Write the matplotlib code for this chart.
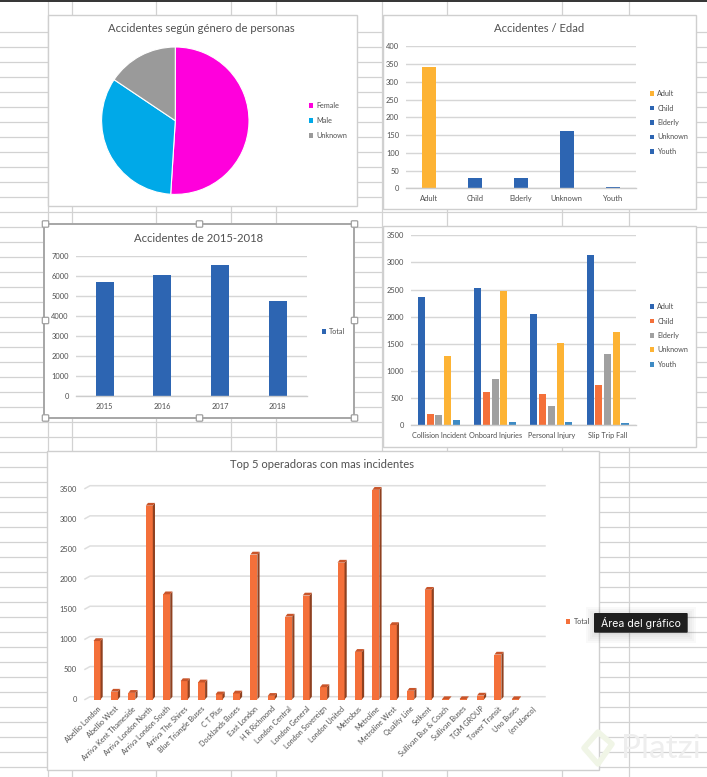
import matplotlib
matplotlib.use("Agg")
import matplotlib.pyplot as plt
from matplotlib.patches import Rectangle, Polygon, FancyBboxPatch, Patch

plt.rcParams['font.family'] = ['Lato', 'DejaVu Sans']

W, H = 707, 777
TXT = '#4f4f4f'
GRID = '#d6d6d6'
SHEET = '#d2d2d2'
BLUE = '#2d65b2'
ORANGE = '#f4703a'
ORANGE_TOP = '#c9552a'
ORANGE_SIDE = '#8f4120'
GRAY = '#a0a0a0'
YELLOW = '#fdb334'
LBLUE = '#3f8bc4'

# --- data ---
gender_labels = ['Female', 'Male', 'Unknown']
gender_values = [51.0, 33.4, 15.6]
gender_colors = ['#ff00dc', '#00a9e8', '#9a9a9a']

age_labels = ['Adult', 'Child', 'Elderly', 'Unknown', 'Youth']
age_values = [342, 30, 28, 162, 3]
age_colors = [YELLOW, BLUE, BLUE, BLUE, BLUE]

years = ['2015', '2016', '2017', '2018']
year_values = [5700, 6050, 6560, 4750]

incident_types = ['Collision Incident', 'Onboard Injuries', 'Personal Injury', 'Slip Trip Fall']
adult = [2370, 2535, 2055, 3140]
child = [205, 615, 580, 745]
elderly = [190, 855, 355, 1320]
unknown = [1285, 2480, 1520, 1710]
youth = [95, 60, 60, 40]

operators = ['Abellio London', 'Abellio West', 'Arriva Kent Thameside', 'Arriva London North',
             'Arriva London South', 'Arriva The Shires', 'Blue Triangle Buses', 'C T Plus',
             'Docklands Buses', 'East London', 'H R Richmond', 'London Central', 'London General',
             'London Sovereign', 'London United', 'Metrobus', 'Metroline', 'Metroline West',
             'Quality Line', 'Selkent', 'Sullivan Bus & Coach', 'Sullivan Buses', 'TGM GROUP',
             'Tower Transit', 'Uno Buses', '(en blanco)']
operator_values = [970, 130, 110, 3215, 1745, 305, 283, 85, 100, 2405, 60, 1375, 1725, 205,
                   2270, 790, 3478, 1235, 145, 1820, 6, 6, 65, 745, 6, 0]

fig = plt.figure(figsize=(W / 100, H / 100), dpi=100, facecolor='white')


def ax_px(l, t, r, b, **kw):
    return fig.add_axes([l / W, 1 - b / H, (r - l) / W, (b - t) / H], **kw)


# sheet background / frames in pixel coordinates
bg = ax_px(0, 0, W, H, zorder=0)
bg.set_xlim(0, W)
bg.set_ylim(H, 0)
bg.axis('off')
for k in range(0, 52):
    y = 1.5 + 15 * k
    if y > 20:
        bg.plot([0, W], [y, y], color=SHEET, lw=0.9, zorder=1)
for x in [48, 72, 156, 231, 276, 382, 447, 562, 629]:
    bg.plot([x, x], [0, H], color=SHEET, lw=0.9, zorder=1)
bg.plot([0, W], [0.5, 0.5], color='#333333', lw=1.4, zorder=1)

boxes = [(47.5, 14.5, 356.5, 205.5), (382.5, 14.5, 696, 208.5),
         (382.5, 226, 696, 446.5), (47, 450.5, 598.5, 770)]
for l, t, r, b in boxes:
    bg.add_patch(Rectangle((l, t), r - l, b - t, fc='white', ec='#cfcfcf', lw=1.0, zorder=3))
bg.add_patch(Rectangle((44, 223.5), 310, 194.5, fc='white', ec='#a6a6a6', lw=1.4, zorder=3))


def title(text, x, y):
    bg.text(x, y, text, ha='center', va='center', fontsize=8.1, color='#505050', zorder=4)


title('Accidentes según género de personas', 201, 29)
title('Accidentes / Edad', 539, 28)
title('Accidentes de 2015-2018', 199, 239)
title('Top 5 operadoras con mas incidentes', 322, 465)


def legend(ax, labels, colors, x, y, gap=15):
    handles = [Patch(fc=c, ec='none', label=t) for t, c in zip(labels, colors)]
    fs = 5.2
    ax.legend(handles=handles, loc='center left', bbox_to_anchor=(x / W, 1 - y / H),
              bbox_transform=fig.transFigure, frameon=False, fontsize=fs, labelcolor=TXT,
              borderpad=0, borderaxespad=0, handlelength=0.62, handleheight=0.62,
              handletextpad=0.45, labelspacing=(gap - fs * 1.39) / (fs * 1.39))


def style(ax, ymax, step):
    ax.patch.set_alpha(0)
    for s in ['top', 'left', 'right']:
        ax.spines[s].set_visible(False)
    ax.spines['bottom'].set_color('#cccccc')
    ax.spines['bottom'].set_linewidth(1.0)
    ax.set_ylim(0, ymax)
    ax.set_yticks(range(0, ymax + 1, step))
    ax.yaxis.grid(True, color=GRID, lw=1.0)
    ax.set_axisbelow(True)
    ax.tick_params(length=0, labelsize=5.4, labelcolor=TXT, pad=5)


# pie
R, cx, cy = 73.7, 175.3, 120.7
a1 = ax_px(cx - R, cy - R, cx + R, cy + R, zorder=1)
a1.pie(gender_values, colors=gender_colors, startangle=90, counterclock=False, radius=1,
       wedgeprops=dict(edgecolor='white', linewidth=0.8))
a1.set_xlim(-1, 1)
a1.set_ylim(-1, 1)
legend(a1, gender_labels, gender_colors, 309, 120.5)

# age
a2 = ax_px(406, 46.3, 635.7, 188.3, zorder=1)
a2.bar(range(5), age_values, width=0.31, color=age_colors)
a2.set_xlim(-0.5, 4.5)
a2.set_xticks(range(5), age_labels)
style(a2, 400, 50)
legend(a2, age_labels, age_colors, 649.5, 122.5, gap=14.7)

# year
a3 = ax_px(75.7, 256.3, 306.7, 396.3, zorder=1)
a3.bar(range(4), year_values, width=0.31, color=BLUE)
a3.set_xlim(-0.5, 3.5)
a3.set_xticks(range(4), years)
style(a3, 7000, 1000)
legend(a3, ['Total'], [BLUE], 321.5, 331.7)

# type
a4 = ax_px(410.7, 235.3, 635.7, 425.3, zorder=1)
series = [adult, child, elderly, unknown, youth]
colors4 = [BLUE, ORANGE, GRAY, YELLOW, LBLUE]
for i, (vals, c) in enumerate(zip(series, colors4)):
    a4.bar([j + (i - 2) * 0.155 for j in range(4)], vals, width=0.125, color=c)
a4.set_xlim(-0.5, 3.5)
a4.set_xticks(range(4), incident_types)
style(a4, 3500, 500)
a4.tick_params(axis='x', labelsize=5.2)
legend(a4, age_labels[:3] + ['Unknown', 'Youth'], colors4, 649.5, 335.5, gap=14.6)

# top operators with pseudo-3D columns
step_px = 17.43
px_per_unit = 211 / 3500
left, right, bottom = 85, 545, 699.5
top = bottom - 3700 * px_per_unit
a5 = ax_px(left, top, right, bottom, zorder=1)
a5.patch.set_alpha(0)
a5.set_ylim(0, 3700)
a5.set_xlim(-(97 - left) / step_px, (right - 97) / step_px)
dx = 2.2 / step_px
dy = 2.8 / px_per_unit
bw = 7.0 / step_px
xmin, xmax = a5.get_xlim()
wall = xmin + 5 / step_px
for v in range(0, 3501, 500):
    a5.plot([xmin, wall, xmax], [v, v + dy, v + dy], color='#dedede', lw=1.1, zorder=1, clip_on=False)
xs = list(range(len(operators)))
a5.bar(xs, operator_values, width=bw, color=ORANGE, zorder=3, linewidth=0)
for x, v in zip(xs, operator_values):
    if v <= 0:
        continue
    l, r = x - bw / 2, x + bw / 2
    a5.add_patch(Polygon([(r, 0), (r + dx, dy), (r + dx, v + dy), (r, v)],
                         fc=ORANGE_SIDE, ec='none', zorder=3))
    a5.add_patch(Polygon([(l, v), (r, v), (r + dx, v + dy), (l + dx, v + dy)],
                         fc=ORANGE_TOP, ec='none', zorder=3))
for s in a5.spines.values():
    s.set_visible(False)
a5.set_yticks(range(0, 3501, 500))
a5.set_xticks(xs)
a5.set_xticklabels(operators, rotation=45, ha='right', va='top', rotation_mode='anchor')
a5.tick_params(length=0, labelsize=5.2, labelcolor=TXT, pad=4)
a5.tick_params(axis='y', labelsize=5.4, pad=6)
legend(a5, ['Total'], [ORANGE], 566, 621.7)

# overlay: selection handles, tooltip and watermark
fg = ax_px(0, 0, W, H, zorder=5)
fg.set_xlim(0, W)
fg.set_ylim(H, 0)
fg.axis('off')
fg.patch.set_alpha(0)
for hx in (45.5, 199.5, 354.5):
    for hy in (224, 320.5, 418):
        if hx == 199.5 and hy == 320.5:
            continue
        fg.add_patch(FancyBboxPatch((hx - 3.2, hy - 3.2), 6.4, 6.4,
                                    boxstyle='round,pad=0,rounding_size=1',
                                    fc='white', ec='#a0a0a0', lw=0.9))
for i in range(5):
    fg.add_patch(Rectangle((594 - i * 2, 613 + 2 - i * 2), 94 + i * 4, 20 + i * 4,
                           fc='black', alpha=0.025, ec='none'))
fg.add_patch(FancyBboxPatch((594, 613), 93.7, 19.7, boxstyle='round,pad=0,rounding_size=1',
                            fc='#1f1f1f', ec='none'))
fg.text(640.5, 623, 'Área del gráfico', ha='center', va='center', fontsize=7.6, color='white',
        family=['Inter', 'DejaVu Sans'])
fg.add_patch(Polygon([(598, 732), (612, 744), (598, 764), (584, 748)], fc='none',
                     ec='#f0f5e6', lw=4, joinstyle='round'))
fg.text(621, 749, 'Platzi', ha='left', va='center', fontsize=24, color='#eeeeee')

fig.savefig('out.png', dpi=100, facecolor='white')
